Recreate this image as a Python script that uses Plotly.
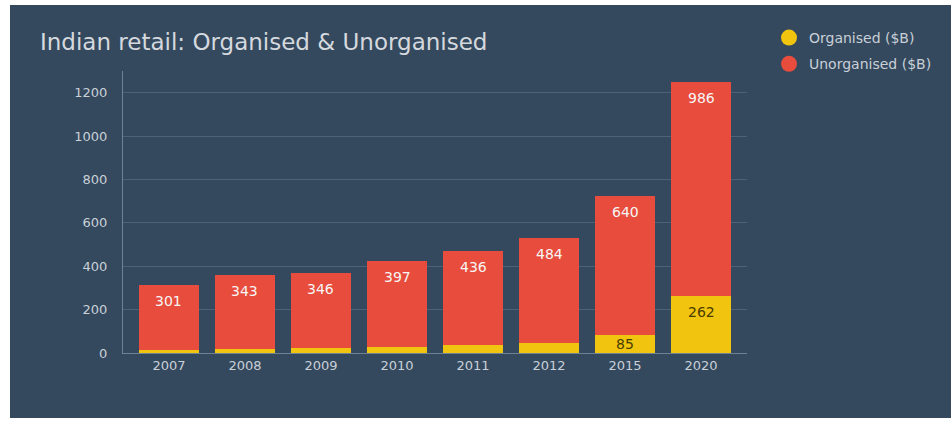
import plotly.graph_objects as go

years = ["2007", "2008", "2009", "2010", "2011", "2012", "2015", "2020"]
organised = [14, 18, 22, 27, 36, 45, 85, 262]
unorganised = [301, 343, 346, 397, 436, 484, 640, 986]
label_min = 50  # organised values below this are not labelled

BG = "#34495e"
RED = "#e74c3c"
YELLOW = "#f1c40f"
TXT = "#c9d0d7"
FONT = "DejaVu Sans, Verdana, sans-serif"

W, H = 951, 421
L, R, T, B = 123, 204, 71, 68
pw, ph = W - L - R, H - T - B
YMAX = 1300

def px_x(p):
    return (p - L) / pw

def px_y(p):
    return (H - B - p) / ph

fig = go.Figure()
fig.add_bar(x=years, y=organised, name="Organised ($B)", marker_color=YELLOW,
            showlegend=False, marker_line_width=0, hoverinfo="x+y")
fig.add_bar(x=years, y=unorganised, name="Unorganised ($B)", marker_color=RED,
            showlegend=False, marker_line_width=0, hoverinfo="x+y")
# legend entries with circular markers
fig.add_scatter(x=[None], y=[None], mode="markers", name="Organised ($B)",
                legendgroup="org",
                marker=dict(color=YELLOW, size=16, symbol="circle"))
fig.add_scatter(x=[None], y=[None], mode="markers", name="Unorganised ($B)",
                legendgroup="unorg",
                marker=dict(color=RED, size=16, symbol="circle"))

# value labels near top of each segment
OFF = 16  # px below segment top
unit_px = ph / YMAX
annotations = []
for i, (o, u) in enumerate(zip(organised, unorganised)):
    top = o + u
    annotations.append(dict(x=i, y=top, xref="x", yref="y", text=str(u),
                            showarrow=False, yanchor="middle", yshift=-OFF,
                            font=dict(size=14, color="#f6f6f6", family=FONT)))
    if o >= label_min:
        if o * unit_px > 2 * OFF:
            a = dict(y=o, yshift=-OFF)
        else:
            a = dict(y=o / 2, yshift=0)
        annotations.append(dict(x=i, xref="x", yref="y", text=str(o),
                                showarrow=False, yanchor="middle",
                                font=dict(size=14, color="#4a3d00", family=FONT), **a))

fig.update_layout(
    width=W, height=H,
    margin=dict(l=L, r=R, t=T, b=B, pad=0),
    paper_bgcolor="white",
    plot_bgcolor="rgba(0,0,0,0)",
    barmode="stack",
    bargap=0.21,
    font=dict(family=FONT, color=TXT, size=13),
    title=dict(text="Indian retail: Organised & Unorganised",
               x=40 / W, xref="container", xanchor="left",
               y=1 - 42 / H, yref="container", yanchor="middle",
               font=dict(size=23, color="#d5d9de", family=FONT)),
    legend=dict(x=px_x(769), y=px_y(22), xanchor="left", yanchor="top",
                xref="paper", yref="paper", traceorder="grouped",
                tracegroupgap=5,
                font=dict(size=14, color=TXT, family=FONT),
                bgcolor="rgba(0,0,0,0)"),
    annotations=annotations,
    shapes=[dict(type="rect", xref="paper", yref="paper",
                 x0=px_x(10), x1=px_x(951), y0=px_y(418), y1=px_y(5),
                 fillcolor=BG, line_width=0, layer="below")],
    xaxis=dict(type="category", range=[-0.605, 7.605], showline=True,
               linecolor="#6f8294", linewidth=1, showgrid=False, ticks="",
               tickfont=dict(size=13, color=TXT), fixedrange=True),
    yaxis=dict(range=[0, YMAX], dtick=200, showline=True, linecolor="#6f8294",
               linewidth=1, gridcolor="#4e6276", zeroline=False, ticks="",
               ticklabelstandoff=12,
               tickfont=dict(size=13, color=TXT), fixedrange=True),
)

fig.write_html("out.html")
